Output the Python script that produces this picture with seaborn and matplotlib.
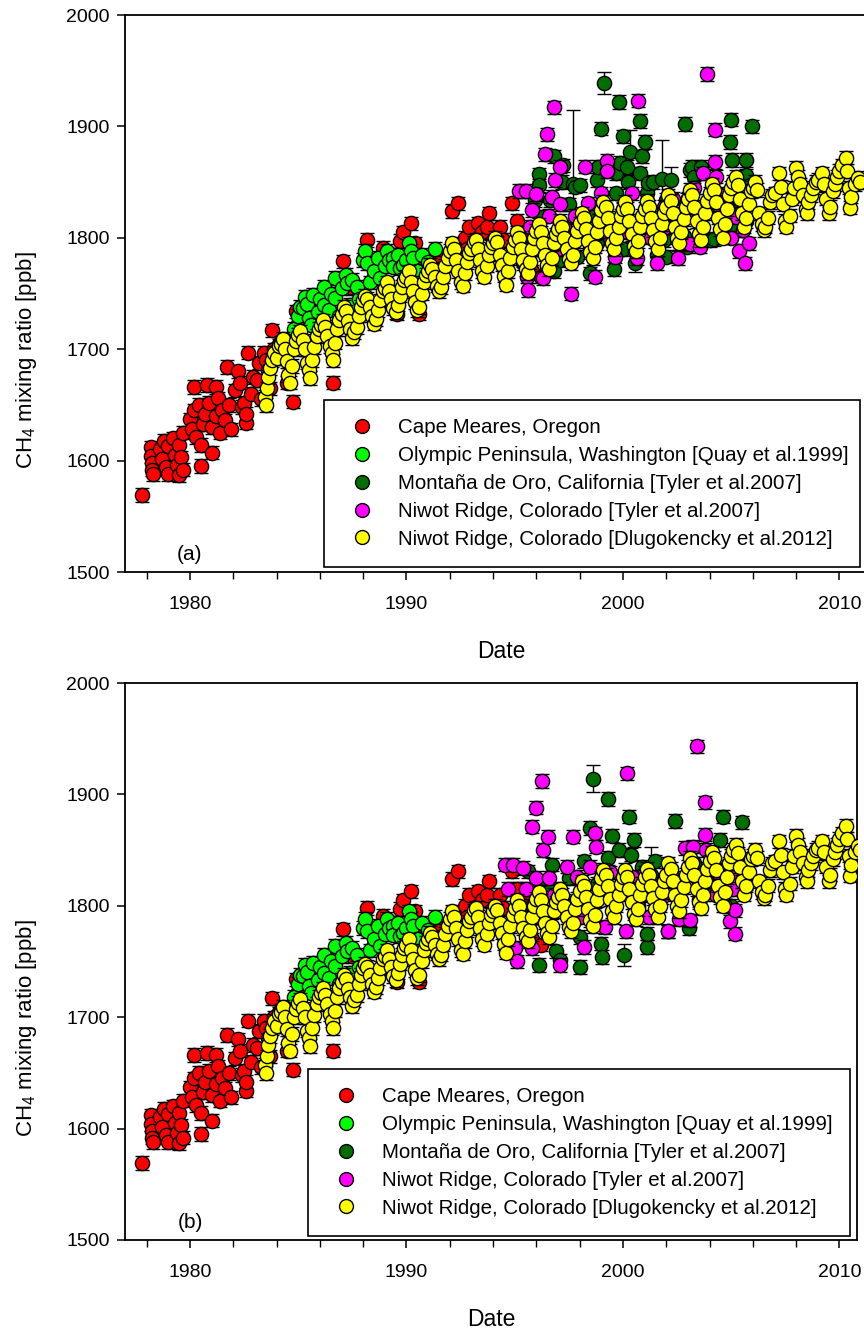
import matplotlib
matplotlib.use("Agg")
import matplotlib.pyplot as plt
from matplotlib.lines import Line2D
from matplotlib.ticker import MultipleLocator
import seaborn as sns
import pandas as pd

# ---------------- data (date [yr], CH4 [ppb]) ----------------
cape_meares = [
    (1977.8, 1569),
    (1978.2, 1612), (1978.2, 1604), (1978.25, 1598), (1978.25, 1592), (1978.3, 1588),
    (1978.6, 1610), (1978.7, 1601), (1978.8, 1618), (1978.9, 1594), (1979.0, 1613), (1979.0, 1588),
    (1979.2, 1620), (1979.3, 1605), (1979.4, 1596), (1979.5, 1614), (1979.5, 1587), (1979.6, 1603),
    (1979.7, 1625), (1979.7, 1592),
    (1980.0, 1637), (1980.1, 1628), (1980.2, 1666), (1980.2, 1645), (1980.3, 1621), (1980.4, 1650),
    (1980.5, 1614), (1980.5, 1595), (1980.6, 1633), (1980.7, 1642),
    (1980.8, 1668), (1980.9, 1652), (1981.0, 1607), (1981.0, 1630), (1981.2, 1666), (1981.2, 1640),
    (1981.3, 1656), (1981.4, 1625), (1981.5, 1645), (1981.6, 1636), (1981.7, 1684), (1981.8, 1650),
    (1981.9, 1628),
    (1982.1, 1663), (1982.2, 1680), (1982.3, 1670), (1982.4, 1648), (1982.5, 1652), (1982.6, 1634),
    (1982.6, 1642), (1982.7, 1697), (1982.8, 1660), (1982.9, 1675),
    (1983.1, 1672), (1983.2, 1688), (1983.3, 1655), (1983.4, 1697), (1983.5, 1690), (1983.6, 1681),
    (1983.7, 1665), (1983.8, 1717), (1983.9, 1700),
    (1984.1, 1705), (1984.3, 1692), (1984.5, 1670), (1984.75, 1653), (1984.9, 1734), (1985.0, 1723),
    (1985.1, 1728), (1986.6, 1670), (1987.05, 1779), (1987.5, 1755), (1988.2, 1798), (1988.5, 1765),
    (1988.9, 1791), (1989.3, 1785), (1989.55, 1732), (1989.7, 1797), (1989.85, 1805), (1990.2, 1813),
    (1990.4, 1795), (1990.6, 1732), (1990.7, 1774),
    (1991.2, 1765), (1991.6, 1780), (1992.1, 1824), (1992.4, 1831), (1992.7, 1800), (1992.8, 1790),
    (1992.9, 1810), (1993.3, 1813), (1993.5, 1805), (1993.7, 1810), (1993.8, 1822), (1994.0, 1792),
    (1994.3, 1810), (1994.45, 1798), (1994.55, 1768), (1994.86, 1831), (1995.1, 1815), (1995.5, 1805),
    (1995.8, 1770), (1996.0, 1790), (1996.2, 1765),
]

olympic = [
    (1984.8, 1718), (1985.0, 1730), (1985.1, 1738), (1985.2, 1737), (1985.3, 1747), (1985.4, 1741),
    (1985.5, 1728), (1985.6, 1722), (1985.7, 1749), (1985.9, 1733), (1986.0, 1745), (1986.2, 1756),
    (1986.2, 1740), (1986.4, 1735), (1986.5, 1750), (1986.6, 1708), (1986.7, 1764), (1986.7, 1746),
    (1986.9, 1730), (1987.0, 1755), (1987.2, 1767), (1987.25, 1759), (1987.4, 1740), (1987.5, 1762),
    (1987.7, 1756), (1987.8, 1745), (1988.0, 1780), (1988.1, 1788), (1988.2, 1777), (1988.3, 1760),
    (1988.5, 1770), (1988.7, 1782), (1988.8, 1764), (1989.0, 1775), (1989.1, 1788), (1989.2, 1780),
    (1989.4, 1782), (1989.4, 1774), (1989.6, 1785), (1989.7, 1773), (1989.85, 1776), (1990.0, 1780),
    (1990.1, 1795), (1990.2, 1788), (1990.3, 1782), (1990.5, 1770), (1990.7, 1785), (1991.0, 1778),
    (1991.3, 1790),
]

# Montana de Oro (Tyler et al. 2007): (date, CH4, error)
montana_a = [
    (1995.4, 1786, 6), (1995.75, 1795, 6), (1995.95, 1834, 6), (1996.1, 1857, 6), (1996.1, 1847, 6),
    (1996.3, 1819, 6), (1996.5, 1774, 6), (1996.65, 1834, 6), (1996.8, 1873, 6), (1996.8, 1770, 6),
    (1997.1, 1780, 6), (1997.17, 1850, 6), (1997.25, 1865, 6), (1997.5, 1830, 6), (1997.5, 1790, 6),
    (1997.7, 1848, 67), (1997.8, 1846, 6), (1997.9, 1819, 6), (1997.9, 1783, 6), (1998.0, 1847, 6),
    (1998.5, 1822, 6), (1998.5, 1768, 6), (1998.8, 1852, 6), (1998.8, 1795, 6), (1998.86, 1864, 6),
    (1998.98, 1898, 6), (1999.12, 1939, 10), (1999.6, 1772, 6), (1999.7, 1858, 6), (1999.7, 1840, 6),
    (1999.83, 1922, 6), (1999.86, 1867, 6), (2000.0, 1891, 6), (2000.0, 1790, 6), (2000.17, 1864, 6),
    (2000.25, 1850, 6), (2000.32, 1877, 20), (2000.55, 1777, 8), (2000.8, 1905, 6), (2000.8, 1858, 6),
    (2000.86, 1873, 6), (2001.0, 1886, 6), (2001.1, 1840, 6), (2001.17, 1849, 6), (2001.4, 1850, 6),
    (2001.55, 1785, 6), (2001.8, 1853, 35), (2001.9, 1798, 6), (2002.0, 1834, 6), (2002.0, 1783, 6),
    (2002.2, 1852, 12), (2002.8, 1802, 6), (2002.85, 1902, 6), (2002.94, 1834, 6), (2002.94, 1792, 6),
    (2003.1, 1861, 6), (2003.2, 1864, 6), (2003.3, 1855, 6), (2003.6, 1864, 6), (2004.0, 1798, 6),
    (2004.2, 1799, 6), (2004.8, 1828, 6), (2004.94, 1886, 6), (2005.0, 1906, 6), (2005.05, 1870, 6),
    (2005.2, 1807, 6), (2005.4, 1831, 6), (2005.7, 1870, 6), (2005.7, 1856, 6), (2005.7, 1815, 6),
    (2005.87, 1847, 6), (2005.95, 1900, 6), (2006.0, 1843, 6),
]

montana_b = [
    (1995.6, 1831, 6), (1995.8, 1800, 6), (1996.1, 1747, 6), (1996.3, 1790, 6), (1996.5, 1820, 6),
    (1996.7, 1837, 6), (1996.9, 1759, 6), (1997.1, 1751, 6), (1997.3, 1805, 6), (1997.5, 1825, 6),
    (1997.7, 1795, 6), (1998.0, 1745, 6), (1998.0, 1772, 6), (1998.2, 1840, 6), (1998.4, 1800, 6),
    (1998.5, 1870, 6), (1998.63, 1914, 12), (1998.8, 1820, 6), (1999.0, 1766, 6), (1999.05, 1754, 6),
    (1999.3, 1896, 6), (1999.3, 1843, 6), (1999.48, 1863, 6), (1999.6, 1800, 6), (1999.8, 1850, 6),
    (2000.05, 1756, 10), (2000.2, 1825, 6), (2000.3, 1880, 6), (2000.35, 1846, 6), (2000.5, 1859, 6),
    (2000.7, 1800, 6), (2000.9, 1835, 6), (2001.1, 1763, 6), (2001.1, 1775, 6), (2001.3, 1828, 25),
    (2001.5, 1840, 6), (2001.7, 1810, 6), (2002.1, 1777, 6), (2002.2, 1830, 6), (2002.4, 1876, 6),
    (2002.7, 1820, 6), (2003.07, 1780, 6), (2003.3, 1838, 6), (2003.5, 1805, 6), (2003.8, 1825, 6),
    (2004.1, 1815, 6), (2004.5, 1859, 6), (2004.6, 1880, 6), (2004.8, 1835, 6), (2005.0, 1800, 6),
    (2005.3, 1845, 6), (2005.5, 1875, 6), (2005.7, 1820, 6),
]

# Niwot Ridge (Tyler et al. 2007): (date, CH4, error)
niwot_tyler_a = [
    (1995.2, 1842, 6), (1995.4, 1777, 6), (1995.5, 1842, 6), (1995.55, 1765, 6), (1995.6, 1753, 6),
    (1995.7, 1810, 6), (1995.8, 1825, 6), (1996.0, 1839, 6), (1996.1, 1800, 6), (1996.3, 1764, 6),
    (1996.4, 1875, 6), (1996.5, 1893, 6), (1996.6, 1820, 6), (1996.7, 1837, 6), (1996.8, 1917, 6),
    (1996.86, 1852, 6), (1997.0, 1790, 6), (1997.1, 1864, 6), (1997.1, 1830, 6), (1997.3, 1810, 6),
    (1997.5, 1800, 6), (1997.6, 1750, 6), (1997.8, 1820, 6), (1998.0, 1805, 6), (1998.25, 1864, 6),
    (1998.4, 1831, 6), (1998.5, 1790, 6), (1998.7, 1765, 6), (1998.9, 1815, 6), (1999.0, 1840, 6),
    (1999.25, 1869, 6), (1999.28, 1860, 6), (1999.4, 1800, 6), (1999.63, 1783, 6), (1999.8, 1815, 6),
    (2000.0, 1825, 6), (2000.2, 1805, 6), (2000.4, 1840, 6), (2000.63, 1782, 6), (2000.7, 1923, 6),
    (2000.9, 1812, 6), (2001.1, 1830, 6), (2001.3, 1800, 6), (2001.55, 1777, 6), (2001.7, 1815, 6),
    (2001.9, 1828, 6), (2002.1, 1810, 6), (2002.3, 1835, 6), (2002.55, 1782, 6), (2002.7, 1800, 6),
    (2002.9, 1822, 6), (2003.1, 1794, 6), (2003.3, 1845, 6), (2003.55, 1792, 6), (2003.7, 1858, 6),
    (2003.9, 1947, 6), (2004.0, 1830, 6), (2004.25, 1897, 6), (2004.25, 1868, 6), (2004.3, 1855, 6),
    (2004.5, 1822, 6), (2004.6, 1810, 6), (2004.8, 1840, 6), (2005.0, 1800, 6), (2005.24, 1819, 6),
    (2005.37, 1788, 6), (2005.56, 1807, 6), (2005.63, 1777, 6), (2005.7, 1830, 6), (2005.8, 1795, 6),
]

niwot_tyler_b = [
    (1994.55, 1837, 6), (1994.7, 1815, 6), (1994.93, 1837, 6), (1995.0, 1762, 6), (1995.1, 1750, 6),
    (1995.2, 1800, 6), (1995.4, 1834, 6), (1995.5, 1815, 6), (1995.8, 1871, 6), (1995.8, 1762, 6),
    (1995.97, 1888, 6), (1996.0, 1825, 6), (1996.25, 1912, 6), (1996.3, 1850, 6), (1996.4, 1790, 6),
    (1996.55, 1862, 6), (1996.6, 1825, 6), (1996.8, 1810, 6), (1997.1, 1747, 6), (1997.2, 1800, 6),
    (1997.4, 1835, 6), (1997.7, 1862, 6), (1997.86, 1826, 6), (1998.0, 1790, 6), (1998.2, 1763, 6),
    (1998.5, 1835, 6), (1998.7, 1865, 6), (1998.75, 1853, 6), (1999.0, 1812, 6), (1999.17, 1781, 6),
    (1999.4, 1830, 6), (1999.6, 1800, 6), (1999.9, 1815, 6), (2000.16, 1777, 6), (2000.2, 1919, 6),
    (2000.4, 1826, 6), (2000.7, 1805, 6), (2001.0, 1830, 6), (2001.2, 1790, 6), (2001.5, 1820, 6),
    (2001.8, 1808, 6), (2002.1, 1777, 6), (2002.3, 1825, 6), (2002.6, 1788, 6), (2002.86, 1852, 6),
    (2003.1, 1787, 6), (2003.25, 1853, 6), (2003.43, 1943, 6), (2003.5, 1820, 6), (2003.8, 1893, 6),
    (2003.8, 1864, 6), (2003.84, 1850, 6), (2004.16, 1838, 6), (2004.3, 1810, 6), (2004.5, 1825, 6),
    (2004.7, 1800, 6), (2004.94, 1786, 6), (2005.1, 1815, 6), (2005.17, 1775, 6), (2005.17, 1796, 6),
    (2005.3, 1830, 6),
]

# Niwot Ridge (Dlugokencky et al. 2012)
niwot_dlugokencky = [
    (1983.45, 1657), (1983.5, 1650), (1983.55, 1665), (1983.6, 1675), (1983.7, 1683), (1983.8, 1690), (1983.9, 1697),
    (1984.0, 1692), (1984.1, 1703), (1984.2, 1705), (1984.3, 1709), (1984.4, 1700), (1984.5, 1689), (1984.55, 1677),
    (1984.6, 1670), (1984.7, 1685), (1984.8, 1700), (1984.9, 1707),
    (1985.0, 1713), (1985.1, 1716), (1985.2, 1708), (1985.3, 1700), (1985.4, 1688), (1985.5, 1681), (1985.55, 1674),
    (1985.65, 1690), (1985.75, 1702), (1985.85, 1712), (1985.95, 1718),
    (1986.05, 1722), (1986.15, 1726), (1986.25, 1720), (1986.35, 1712), (1986.45, 1703), (1986.55, 1697), (1986.6, 1690),
    (1986.7, 1706), (1986.8, 1718), (1986.9, 1726),
    (1987.0, 1732), (1987.1, 1738), (1987.2, 1734), (1987.3, 1725), (1987.4, 1718), (1987.5, 1710), (1987.6, 1715),
    (1987.7, 1720), (1987.8, 1730), (1987.9, 1738),
    (1988.0, 1744), (1988.1, 1748), (1988.2, 1745), (1988.3, 1738), (1988.4, 1730), (1988.5, 1723), (1988.6, 1727),
    (1988.7, 1735), (1988.8, 1744), (1988.9, 1752),
    (1989.0, 1755), (1989.1, 1760), (1989.2, 1752), (1989.3, 1745), (1989.4, 1737), (1989.5, 1733), (1989.6, 1740),
    (1989.7, 1748), (1989.8, 1756), (1989.9, 1762),
    (1990.0, 1765), (1990.1, 1770), (1990.2, 1760), (1990.3, 1752), (1990.4, 1742), (1990.5, 1735), (1990.6, 1738),
    (1990.7, 1750), (1990.8, 1760), (1990.9, 1767),
    (1991.0, 1770), (1991.1, 1776), (1991.2, 1772), (1991.3, 1765), (1991.4, 1757), (1991.5, 1752), (1991.6, 1756),
    (1991.7, 1765), (1991.8, 1775), (1991.9, 1782),
    (1992.0, 1788), (1992.1, 1795), (1992.2, 1790), (1992.3, 1780), (1992.4, 1770), (1992.5, 1760), (1992.6, 1757),
    (1992.7, 1768), (1992.8, 1778), (1992.9, 1786),
    (1993.0, 1790), (1993.1, 1796), (1993.2, 1798), (1993.3, 1790), (1993.4, 1780), (1993.5, 1770), (1993.6, 1765),
    (1993.7, 1775), (1993.8, 1785), (1993.9, 1792),
    (1994.0, 1795), (1994.1, 1800), (1994.2, 1796), (1994.3, 1785), (1994.4, 1776), (1994.5, 1766), (1994.6, 1758),
    (1994.7, 1770), (1994.8, 1782), (1994.9, 1792),
    (1995.0, 1798), (1995.1, 1805), (1995.2, 1800), (1995.3, 1790), (1995.4, 1780), (1995.5, 1772), (1995.6, 1768),
    (1995.7, 1778), (1995.8, 1790), (1995.9, 1800),
    (1996.0, 1806), (1996.1, 1812), (1996.2, 1805), (1996.3, 1795), (1996.4, 1785), (1996.5, 1776), (1996.6, 1772),
    (1996.7, 1782), (1996.8, 1795), (1996.9, 1803),
    (1997.0, 1808), (1997.1, 1815), (1997.2, 1810), (1997.3, 1800), (1997.4, 1790), (1997.5, 1781), (1997.6, 1777),
    (1997.7, 1785), (1997.8, 1797), (1997.9, 1806),
    (1998.0, 1813), (1998.1, 1822), (1998.2, 1818), (1998.3, 1808), (1998.4, 1797), (1998.5, 1787), (1998.6, 1782),
    (1998.7, 1792), (1998.8, 1805), (1998.9, 1815),
    (1999.0, 1825), (1999.1, 1832), (1999.2, 1828), (1999.3, 1818), (1999.4, 1806), (1999.5, 1795), (1999.6, 1790),
    (1999.7, 1800), (1999.8, 1810), (1999.9, 1820),
    (2000.0, 1826), (2000.1, 1832), (2000.2, 1826), (2000.3, 1815), (2000.4, 1803), (2000.5, 1793), (2000.6, 1788),
    (2000.7, 1797), (2000.8, 1810), (2000.9, 1820),
    (2001.0, 1826), (2001.1, 1833), (2001.2, 1828), (2001.3, 1818), (2001.4, 1807), (2001.5, 1797), (2001.6, 1790),
    (2001.7, 1800), (2001.8, 1812), (2001.9, 1822),
    (2002.0, 1828), (2002.1, 1838), (2002.2, 1833), (2002.3, 1822), (2002.4, 1810), (2002.5, 1800), (2002.6, 1795),
    (2002.7, 1805), (2002.8, 1817), (2002.9, 1828),
    (2003.0, 1835), (2003.1, 1843), (2003.2, 1838), (2003.3, 1828), (2003.4, 1815), (2003.5, 1803), (2003.6, 1798),
    (2003.7, 1810), (2003.8, 1822), (2003.9, 1833),
    (2004.0, 1840), (2004.1, 1848), (2004.2, 1843), (2004.3, 1832), (2004.4, 1818), (2004.5, 1808), (2004.6, 1800),
    (2004.7, 1812), (2004.8, 1826), (2004.9, 1838),
    (2005.0, 1845), (2005.1, 1850), (2005.2, 1855), (2005.3, 1847), (2005.4, 1835), (2005.5, 1822), (2005.6, 1810),
    (2005.7, 1818), (2005.8, 1830), (2005.9, 1842),
    (2006.0, 1845), (2006.1, 1850), (2006.2, 1843), (2006.3, 1822), (2006.4, 1812), (2006.5, 1807), (2006.55, 1810),
    (2006.7, 1818), (2006.8, 1832), (2006.9, 1838),
    (2007.0, 1840), (2007.2, 1858), (2007.3, 1846), (2007.4, 1830), (2007.5, 1815), (2007.55, 1810), (2007.7, 1820),
    (2007.8, 1835), (2007.9, 1845),
    (2008.0, 1863), (2008.1, 1855), (2008.2, 1848), (2008.3, 1838), (2008.45, 1826), (2008.5, 1822), (2008.55, 1832),
    (2008.7, 1838), (2008.8, 1845), (2008.9, 1850),
    (2009.0, 1852), (2009.2, 1858), (2009.3, 1848), (2009.4, 1835), (2009.5, 1822), (2009.55, 1828), (2009.7, 1842),
    (2009.8, 1848), (2009.9, 1855),
    (2010.0, 1860), (2010.1, 1865), (2010.3, 1872), (2010.35, 1860), (2010.45, 1845), (2010.5, 1827), (2010.55, 1837),
    (2010.7, 1848), (2010.85, 1854), (2010.95, 1850),
]

series_labels = [
    "Cape Meares, Oregon",
    "Olympic Peninsula, Washington [Quay et al.1999]",
    "Montaña de Oro, California [Tyler et al.2007]",
    "Niwot Ridge, Colorado [Tyler et al.2007]",
    "Niwot Ridge, Colorado [Dlugokencky et al.2012]",
]
series_colors = ["#ff0000", "#00ff00", "#006f00", "#ff00ff", "#ffff00"]
default_err = 6

y_ticks = [1500, 1600, 1700, 1800, 1900, 2000]
x_ticks = [1980, 1990, 2000, 2010]


def to_frame(points, label):
    rows = []
    for p in points:
        err = p[2] if len(p) > 2 else default_err
        rows.append({"date": p[0], "ch4": p[1], "err": err, "series": label})
    return pd.DataFrame(rows)


sns.set_theme(style="ticks")
plt.rcParams["font.family"] = ["Liberation Sans", "DejaVu Sans"]
plt.rcParams["mathtext.default"] = "regular"
for key in ["text.color", "axes.labelcolor", "xtick.color", "ytick.color", "axes.edgecolor"]:
    plt.rcParams[key] = "black"

W, H = 864, 1335
fig = plt.figure(figsize=(W / 100, H / 100), dpi=100)
px_per_year = 21.65
x0_px = 125
ax_a = fig.add_axes([x0_px / W, 1 - 572 / H, 752 / W, 557 / H])
ax_b = fig.add_axes([x0_px / W, 1 - 1240 / H, 732 / W, 557 / H])

panels = [
    (ax_a, [cape_meares, olympic, montana_a, niwot_tyler_a, niwot_dlugokencky], "(a)",
     (324, 400, 860, 566)),
    (ax_b, [cape_meares, olympic, montana_b, niwot_tyler_b, niwot_dlugokencky], "(b)",
     (308, 1069, 850, 1233)),
]

leg_fs = 14.8
for ax, datasets, tag, box in panels:
    for i, (pts, lab, col) in enumerate(zip(datasets, series_labels, series_colors)):
        df = to_frame(pts, lab)
        ax.errorbar(df["date"], df["ch4"], yerr=df["err"], fmt="none", ecolor="black",
                    elinewidth=1.0, capsize=5, capthick=1.0, zorder=2 + 2 * i)
        sns.scatterplot(data=df, x="date", y="ch4", ax=ax, color=col, edgecolor="black",
                        linewidth=1.0, s=105, marker="o", legend=False, zorder=3 + 2 * i)
    width_px = ax.get_position().width * W
    ax.set_xlim(1977.0, 1977.0 + width_px / px_per_year)
    ax.set_ylim(1500, 2000)
    ax.set_yticks(y_ticks)
    ax.set_xticks(x_ticks)
    ax.xaxis.set_minor_locator(MultipleLocator(2))
    ax.tick_params(axis="both", which="major", direction="out", length=6, width=1.1,
                   labelsize=14, color="black", labelcolor="black")
    ax.tick_params(axis="x", which="major", pad=11)
    ax.tick_params(axis="y", which="major", pad=5)
    ax.tick_params(axis="x", which="minor", direction="out", length=5, width=1.0, color="black")
    ax.tick_params(axis="y", which="minor", left=False)
    for sp in ax.spines.values():
        sp.set_linewidth(1.3)
        sp.set_color("black")
    ax.set_xlabel("Date", fontsize=16.5, labelpad=20)
    ax.set_ylabel("CH$_4$ mixing ratio [ppb]", fontsize=16)
    ax.yaxis.set_label_coords((39 - x0_px) / width_px, 0.38)
    ax.text(1980.0, 1507, tag, fontsize=15, ha="center", va="bottom")

    handles = [Line2D([], [], marker="o", linestyle="none", markerfacecolor=c,
                      markeredgecolor="black", markeredgewidth=1.0, markersize=10)
               for c in series_colors]
    l, t, r, b = box
    leg = ax.legend(handles, series_labels, loc="upper left",
                    bbox_to_anchor=(l / W, 1 - t / H, (r - l) / W, 0),
                    bbox_transform=fig.transFigure, mode="expand",
                    fontsize=leg_fs, frameon=True, fancybox=False, framealpha=1,
                    edgecolor="black", borderpad=0.89, labelspacing=0.43,
                    handletextpad=0.79, handlelength=1.91, borderaxespad=0)
    leg.get_frame().set_linewidth(1.2)
    leg.set_zorder(20)

fig.savefig("out.png", dpi=100)
